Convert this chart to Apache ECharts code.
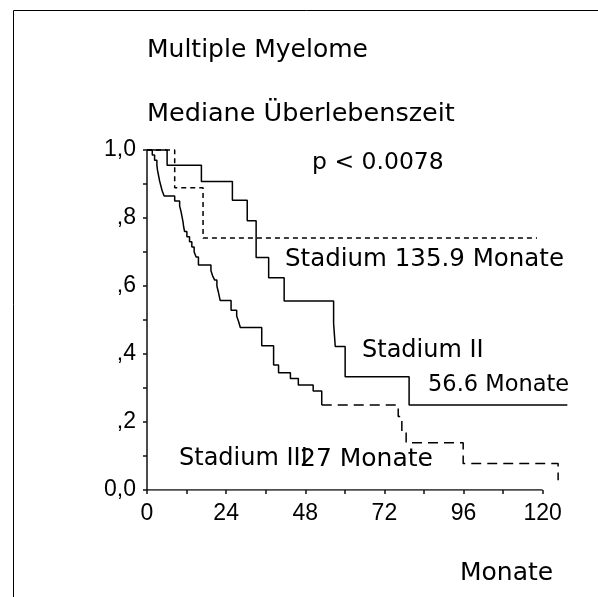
<!DOCTYPE html>
<html>
<head>
<meta charset="utf-8">
<script src="https://cdn.jsdelivr.net/npm/echarts@6/dist/echarts.min.js"></script>
<style>html,body{margin:0;padding:0;background:#fff;}#c{width:598px;height:597px;}</style>
</head>
<body>
<div id="c"></div>
<script>
// Kaplan-Meier steps (months, survival)
const stage1Time = [0, 8.4, 17.0, 118.3];
const stage1Surv = [1.0, 0.889, 0.741, 0.741];

const stage2Time = [0, 6.1, 16.5, 25.9, 30.4, 33.1, 36.9, 41.6, 56.6, 57.1, 60.1, 79.5, 127.5];
const stage2Surv = [1.0, 0.955, 0.907, 0.852, 0.792, 0.684, 0.624, 0.556, 0.49, 0.422, 0.333, 0.25, 0.25];

const stage3Time = [0, 1.6, 2.3, 3.0, 3.2, 3.5, 3.8, 4.2, 4.6, 5.2, 8.4, 9.9, 10.3, 10.6, 10.9, 11.1, 11.4, 12.1, 12.9, 13.6, 14.3, 14.9, 15.6, 19.4, 19.9, 20.5, 21.2, 21.7, 22.2, 25.5, 27.2, 27.8, 28.3, 34.8, 38.4, 39.9, 43.5, 45.9, 50.4, 53.0, 76.2, 77.3, 78.6, 95.9, 124.7];
const stage3Surv = [1.0, 0.985, 0.970, 0.955, 0.94, 0.925, 0.91, 0.895, 0.88, 0.865, 0.85, 0.835, 0.82, 0.805, 0.79, 0.775, 0.76, 0.745, 0.73, 0.715, 0.70, 0.685, 0.662, 0.645, 0.63, 0.618, 0.60, 0.58, 0.557, 0.529, 0.512, 0.495, 0.478, 0.424, 0.368, 0.345, 0.328, 0.309, 0.291, 0.25, 0.216, 0.172, 0.139, 0.078, 0.029];
const stage3SolidUntil = 53.0;

const xTickValues = [0, 12, 24, 36, 48, 60, 72, 84, 96, 108, 120];
const xLabelValues = [0, 24, 48, 72, 96, 120];
const yTickLabels = {0: '0,0', 2: ',2', 4: ',4', 6: ',6', 8: ',8', 10: '1,0'};

const pairs = (t, s) => t.map((v, i) => [v, s[i]]);
const s3 = pairs(stage3Time, stage3Surv);
const splitIdx = stage3Time.indexOf(stage3SolidUntil);
const xAxisLineData = [[xTickValues[0], 0], [xTickValues[xTickValues.length - 1], 0]];

const base = {type: 'line', step: 'end', symbol: 'none', clip: false, silent: true};
const chart = echarts.init(document.getElementById('c'));
const txtFont = '"DejaVu Sans"';
function label(text, x, y, size) {
  return {type: 'text', x: x, y: y, silent: true,
    style: {text: text, fill: '#000', font: size + 'px ' + txtFont, align: 'left', verticalAlign: 'middle'}};
}
const tickFont = {color: '#000', fontSize: 23, fontFamily: '"Liberation Sans", Arial'};
chart.setOption({
  animation: false,
  backgroundColor: '#fff',
  grid: {left: 147, right: 22.4, top: 150, bottom: 107, containLabel: false},
  xAxis: {
    type: 'value', min: 0, max: 130,
    axisLine: {show: false},
    axisTick: {show: true, length: 4, customValues: xTickValues, lineStyle: {color: '#111', width: 1.5}},
    splitLine: {show: false},
    axisLabel: Object.assign({margin: 12, customValues: xLabelValues, formatter: v => String(Math.round(v))}, tickFont)
  },
  yAxis: {
    type: 'value', min: 0, max: 1, interval: 0.1,
    axisLine: {show: true, lineStyle: {color: '#111', width: 1.5}},
    axisTick: {show: true, length: 4, lineStyle: {color: '#111', width: 1.5}},
    splitLine: {show: false},
    axisLabel: Object.assign({margin: 11,
      formatter: v => { const k = Math.round(v * 10); return yTickLabels[k] !== undefined ? yTickLabels[k] : ''; }}, tickFont)
  },
  series: [
    {type: 'line', symbol: 'none', silent: true, data: xAxisLineData,
      lineStyle: {color: '#111', width: 1.5}},
    Object.assign({}, base, {name: 'Stadium I', data: pairs(stage1Time, stage1Surv),
      lineStyle: {color: '#000', width: 1.5, type: [5, 4]}}),
    Object.assign({}, base, {name: 'Stadium II', data: pairs(stage2Time, stage2Surv),
      lineStyle: {color: '#000', width: 1.5, type: 'solid'}}),
    Object.assign({}, base, {name: 'Stadium III', data: s3.slice(0, splitIdx + 1),
      lineStyle: {color: '#000', width: 1.5, type: 'solid'}}),
    Object.assign({}, base, {name: 'Stadium III tail', data: s3.slice(splitIdx),
      lineStyle: {color: '#000', width: 1.5, type: [10, 6]}})
  ],
  graphic: [
    {type: 'rect', silent: true, shape: {x: 13.5, y: 10.5, width: 700, height: 700},
      style: {fill: 'none', stroke: '#000', lineWidth: 1}},
    label('Multiple Myelome', 147, 50, 25),
    label('Mediane Überlebenszeit', 147, 114, 25.5),
    label('p < 0.0078', 312, 163, 23.5),
    label('Stadium 135.9 Monate', 285, 260, 24.5),
    label('Stadium II', 362, 351, 24),
    label('56.6 Monate', 428, 385, 22.5),
    label('Stadium III', 179, 459, 24),
    label('27 Monate', 300, 459, 25),
    label('Monate', 460, 573, 25)
  ]
});
</script>
</body>
</html>
